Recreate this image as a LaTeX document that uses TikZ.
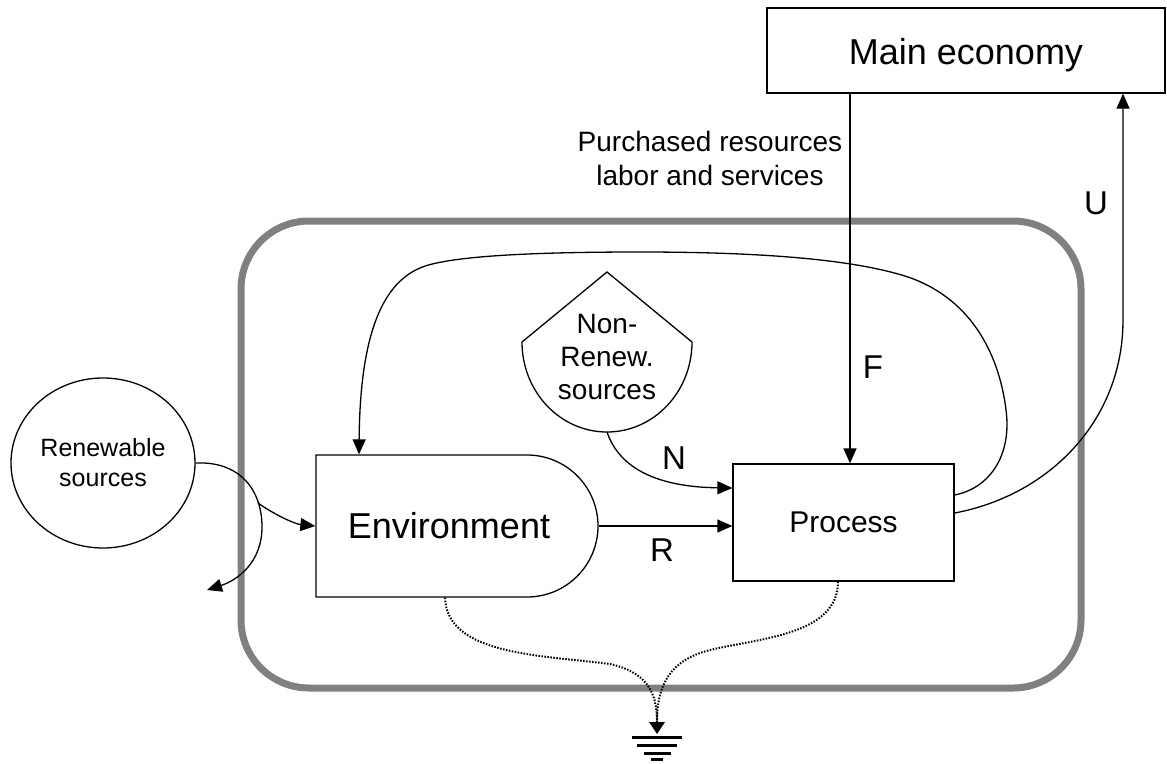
\documentclass[tikz,border=0pt]{standalone}
\usepackage{fontspec}
\setmainfont{Liberation Sans}
\usetikzlibrary{arrows.meta,shapes.geometric,shapes.misc}
\definecolor{framegray}{HTML}{808080}
\tikzset{
  ln/.style={line width=1.3pt, black},
  arr/.style={ln, -{Triangle[length=15pt,width=13pt]}},
  box/.style={draw, ln, inner sep=0pt},
  dots/.style={line width=2pt, dash pattern=on 1.5pt off 1.5pt},
  bigtxt/.style={font=\fontsize{36}{43}\selectfont},
  midtxt/.style={font=\fontsize{30}{36}\selectfont},
  lbl/.style={font=\fontsize{33}{38}\selectfont},
}
\begin{document}
\begin{tikzpicture}[x=1pt,y=-1pt]
\useasboundingbox (0,0) rectangle (1167,763);
% system frame
\draw[framegray, line width=7pt, rounded corners=68pt] (241,221) rectangle (1081,688);

% nodes
\node[box, minimum width=398pt, minimum height=85pt, bigtxt] (econ) at (966,50.5) {\raisebox{-5pt}[\height][\depth]{Main economy}};
\node[box, minimum width=221pt, minimum height=117pt, midtxt] (proc) at (843.5,522.5) {Process};
\node[box, rounded rectangle, rounded rectangle west arc=none, minimum width=282pt, minimum height=142pt] (env) at (457,526) {};
\node[bigtxt] (envtxt) at (449,526) {Environment};
\node[box, ellipse, minimum width=184pt, minimum height=170pt, align=center,
      font=\fontsize{25}{30}\selectfont] (ren) at (103,463) {Renewable\\sources};
% non-renewable storage tank
\draw[ln] (522,342) -- (607,272) -- (692,342) arc[start angle=0, end angle=180, x radius=85, y radius=90] -- cycle;
\node[align=center, font=\fontsize{28}{33}\selectfont] (nrs) at (607,357) {Non-\\Renew.\\sources};
\coordinate (nrbot) at (607,432);
\node[align=center, font=\fontsize{28}{34}\selectfont] (purch) at (710,158) {Purchased resources\\labor and services};

% renewable inflow with split
\coordinate (split) at (258,503);
\draw[arr] (ren.east) .. controls (240,461) and (262,490) .. (262,527)
   .. controls (262,562) and (238,580) .. (207,590);
\draw[arr] (split) .. controls (275,515) and (295,524) .. (env.west);

% N
\draw[arr] (nrbot) .. controls (620,470) and (660,487) .. (proc.west |- 0,488);
\node[lbl] (nl) at (674,458) {N};
% R
\draw[arr] (env.east) -- (proc.west |- env.east);
\node[lbl] (rl) at (662,550) {R};
% F
\draw[arr] (econ.south -| 850,0) -- (proc.north -| 850,0);
\node[lbl] (fl) at (873,367) {F};
% U
\draw[arr] (proc.east |- 0,513) .. controls (1050,495) and (1123,420) .. (1123,320) -- (econ.south -| 1123,0);
\node[lbl] (ul) at (1096,203) {U};
% feedback loop
\draw[arr] (proc.east |- 0,495) .. controls (990,488) and (1012,455) .. (1006,410)
   .. controls (1000,360) and (975,300) .. (908,277)
   .. controls (850,258) and (750,252) .. (640,252)
   .. controls (520,252) and (445,257) .. (420,268)
   .. controls (380,285) and (360,340) .. (env.north -| 359,0);

% heat sink
\coordinate (gnd) at (657,722);
\draw[dots] (env.south -| 445,0) .. controls (447,655) and (540,655) .. (610,664)
   .. controls (645,672) and (657,690) .. (gnd);
\draw[dots] (proc.south -| 838,0) .. controls (838,635) and (760,638) .. (710,650)
   .. controls (670,660) and (657,685) .. (gnd);
\fill ([xshift=-8pt]gnd) -- ([xshift=8pt]gnd) -- ([yshift=-12pt]gnd) -- cycle;
\draw[line width=3pt] (632,737) -- (682,737);
\draw[line width=3pt] (637,745) -- (677,745);
\draw[line width=3pt] (644,753) -- (671,753);
\draw[line width=3pt] (651,759.5) -- (663,759.5);
\end{tikzpicture}
\end{document}
